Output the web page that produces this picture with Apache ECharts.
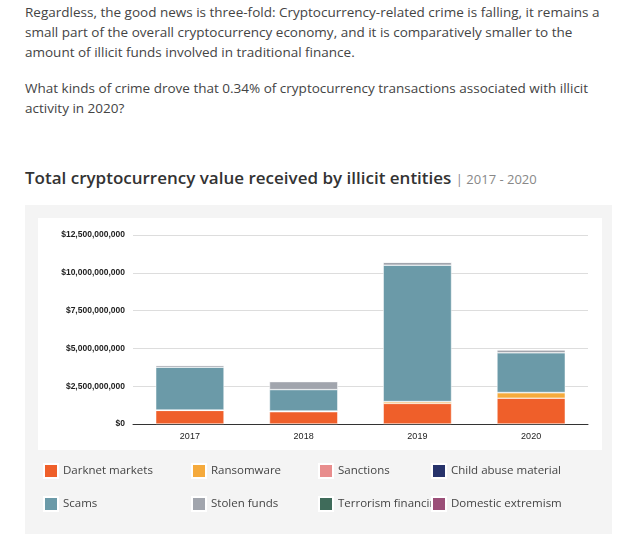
<!DOCTYPE html>
<html><head><meta charset="utf-8">
<script src="https://cdn.jsdelivr.net/npm/echarts@6/dist/echarts.min.js"></script>
<style>
body{margin:0;width:627px;height:534px;overflow:hidden;background:#fff;font-family:"Open Sans",Lato,sans-serif;color:#444}
p{margin:0;position:absolute;left:25px;width:590px;font-size:13.5px;line-height:20px}
#title{position:absolute;left:25px;top:166px;font-size:17px;font-weight:600;color:#333}
#title span{font-size:13px;font-weight:400;color:#888}
#panel{position:absolute;left:25px;top:205px;width:587px;height:329px;background:#f4f4f4}
</style></head><body>
<p style="top:2px">Regardless, the good news is three-fold: Cryptocurrency-related crime is falling, it remains a small part of the overall cryptocurrency economy, and it is comparatively smaller to the amount of illicit funds involved in traditional finance.</p>
<p style="top:78px">What kinds of crime drove that 0.34% of cryptocurrency transactions associated with illicit activity in 2020?</p>
<div id="title">Total cryptocurrency value received by illicit entities <span>| 2017 - 2020</span></div>
<div id="panel"></div>
<script>
// values in billions of USD
var years=['2017','2018','2019','2020'];
var names=['Darknet markets','Ransomware','Sanctions','Child abuse material','Scams','Stolen funds','Terrorism financing','Domestic extremism'];
var colors=['#ef5f2a','#f5aa3c','#e88d8d','#27336b','#6b9aa8','#a1a5ad','#3f6b5a','#9b4f78'];
var darknet=[0.90,0.81,1.36,1.71];
var ransomware=[0.01,0.04,0.11,0.36];
var sanctions=[0.01,0.01,0.01,0.01];
var childAbuse=[0.005,0.005,0.005,0.005];
var scams=[2.83,1.41,9.02,2.62];
var stolen=[0.13,0.53,0.20,0.20];
var terrorism=[0.005,0.005,0.005,0.005];
var extremism=[0.002,0.002,0.002,0.002];
var yTicks=[0,2.5,5,7.5,10,12.5];
var values=[darknet,ransomware,sanctions,childAbuse,scams,stolen,terrorism,extremism];

var chart=echarts.init(document.getElementById('panel'));
var legendLeft=[13,161,288,401];
var legends=names.map(function(n,i){
  return {data:[n],left:legendLeft[i%4],top:i<4?253:286,itemWidth:14,itemHeight:14,icon:'rect',
    textStyle:{color:'#444',fontSize:11.5,fontFamily:'Open Sans'},selectedMode:false};
});
chart.setOption({
  animation:false,
  color:colors,
  graphic:[{type:'rect',left:13,top:13,shape:{width:564,height:232},style:{fill:'#fff'},z:-10}],
  legend:legends,
  grid:{left:108,right:24,top:30,bottom:110},
  xAxis:{type:'category',data:years,axisTick:{show:false},
    axisLine:{lineStyle:{color:'#333'}},axisLabel:{color:'#222',fontSize:9,fontFamily:'Arial'}},
  yAxis:{type:'value',min:0,max:12.5,interval:2.5,
    axisLabel:{color:'#222',fontSize:8.5,fontFamily:'Arial',fontWeight:'bold',
      formatter:function(v){return '$'+(v*1e9).toLocaleString('en-US');}},
    splitLine:{lineStyle:{color:'#ddd'}}},
  series:values.map(function(d,i){
    return {name:names[i],type:'bar',stack:'a',data:d,barWidth:'60%',
      itemStyle:{borderColor:'#fff',borderWidth:0.5}};
  })
});
</script>
</body></html>
